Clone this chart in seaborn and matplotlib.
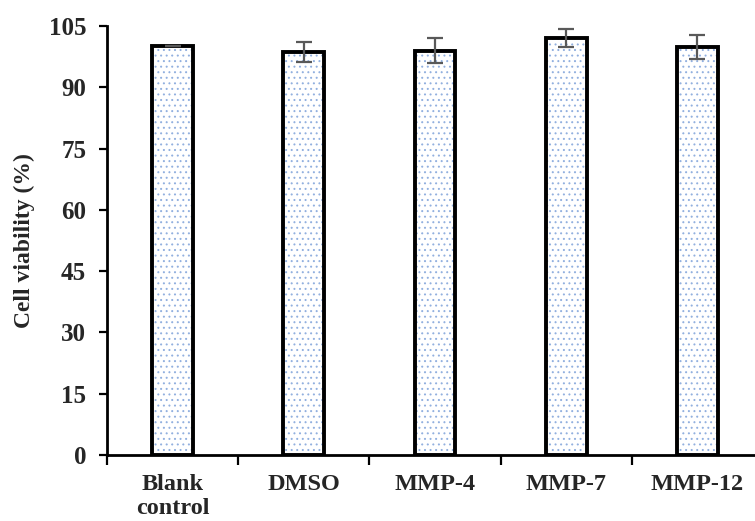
import matplotlib
matplotlib.use("Agg")
import matplotlib.pyplot as plt
import seaborn as sns
import pandas as pd

groups = ["Blank\ncontrol", "DMSO", "MMP-4", "MMP-7", "MMP-12"]
viability = [100.0, 98.7, 99.0, 102.1, 99.9]
viability_sd = [0.0, 2.5, 3.0, 2.2, 3.0]

sns.set_style("white")
plt.rcParams["font.family"] = ["Liberation Serif", "DejaVu Serif"]
plt.rcParams["font.weight"] = "bold"
plt.rcParams["hatch.linewidth"] = 0.7

df = pd.DataFrame({"group": groups, "viability": viability})

fig = plt.figure(figsize=(7.55, 5.21), dpi=100)
ax = fig.add_axes([107 / 755, 66 / 521, 656 / 755, 429 / 521])

# dotted fill
sns.barplot(data=df, x="group", y="viability", ax=ax, width=0.31,
            color="white", edgecolor="#92b0df", linewidth=0, hatch="...",
            errorbar=None)
# black outlines
sns.barplot(data=df, x="group", y="viability", ax=ax, width=0.31,
            fill=False, edgecolor="black", linewidth=2.8, errorbar=None)

ax.errorbar(range(len(groups)), viability, yerr=viability_sd, fmt="none",
            ecolor="#595959", elinewidth=1.6, capsize=6, capthick=1.6,
            zorder=5)

ax.set_xlim(-0.5, len(groups) - 0.5)
ax.set_ylim(0, 105)
ax.set_yticks(range(0, 106, 15))
ax.set_xticks([i - 0.5 for i in range(len(groups) + 1)], minor=False)
ax.set_xticklabels([])
ax.set_xticks(range(len(groups)), minor=True)
ax.set_xticklabels(groups, minor=True, fontsize=17.5, fontweight="bold",
                   linespacing=1.15)
ax.tick_params(axis="x", which="minor", length=0, pad=14)
ax.tick_params(axis="x", which="major", length=7, width=1.6, direction="out",
               bottom=True, color="black")
ax.tick_params(axis="y", length=6, width=1.6, direction="out", left=True,
               labelsize=18, pad=9, color="black")
for lab in ax.get_yticklabels():
    lab.set_fontweight("bold")

ax.set_xlabel("")
ax.set_ylabel("Cell viability (%)", fontsize=17, fontweight="bold", labelpad=10)

sns.despine(ax=ax)
for side in ("left", "bottom"):
    ax.spines[side].set_linewidth(2.0)
    ax.spines[side].set_color("black")

fig.savefig("out.png", dpi=100)
